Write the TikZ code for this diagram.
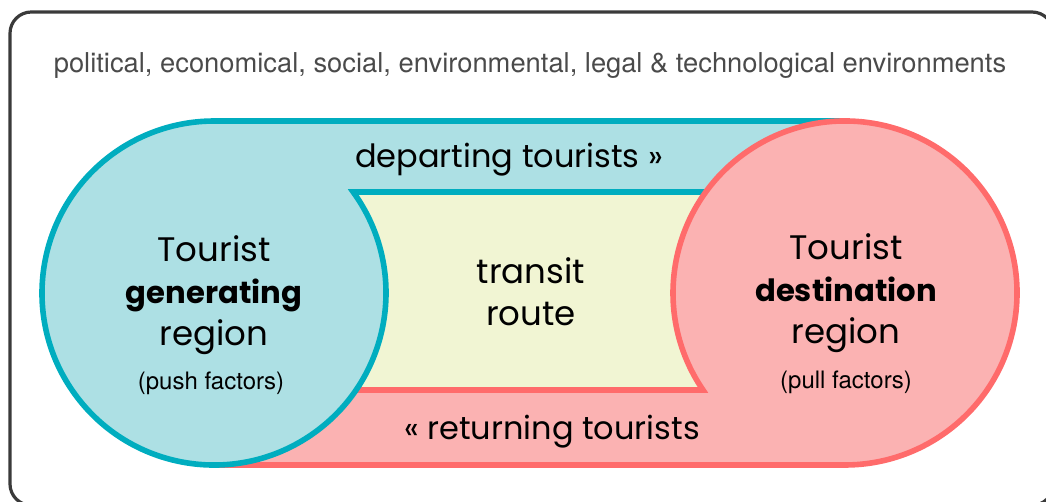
\documentclass[tikz,border=0pt]{standalone}
\usepackage{fontspec}
\setmainfont{Poppins}
\newfontfamily\heros{TeX Gyre Heros}
\usepackage{tikz}
\definecolor{genline}{HTML}{00ADBF}
\definecolor{genfill}{HTML}{ADE0E4}
\definecolor{dstline}{HTML}{FF6B6B}
\definecolor{dstfill}{HTML}{FBB2B2}
\definecolor{routefill}{HTML}{F1F5D3}
\definecolor{boxgray}{HTML}{3A3A3A}
\definecolor{envgray}{HTML}{4A4A4A}
\newcommand{\keyword}[1]{{\bfseries\fontsize{23}{32}\selectfont #1}}
\tikzstyle{region} = [align=center, text centered, font=\fontsize{25.5}{31.5}\selectfont]
\tikzstyle{flow} = [font=\fontsize{24}{28}\selectfont]
\tikzstyle{factors} = [font=\heros\fontsize{18}{21}\selectfont]
\tikzstyle{env} = [text=envgray, font=\heros\fontsize{20.5}{24}\selectfont]

\begin{document}
\begin{tikzpicture}[line width=4.2pt]
  \useasboundingbox (0pt,0pt) rectangle (784.5pt,-376.5pt);
  \draw[line width=2.4pt, draw=boxgray, rounded corners=16pt] (7.5pt,-9pt) rectangle (790pt,-379pt);
  \fill[routefill] (160.5pt,-144pt) rectangle (633.75pt,-292.5pt);
  \fill[dstfill] (160.5pt,-292.5pt) rectangle (633.75pt,-348.75pt);
  \draw[dstline] (160.5pt,-292.5pt) -- (633.75pt,-292.5pt) (160.5pt,-348.75pt) -- (633.75pt,-348.75pt);
  \fill[genfill] (633.75pt,-144pt) -- (264.9pt,-144pt) arc[start angle=35.97, end angle=-270, radius=129pt] -- (633.75pt,-90.75pt) -- cycle;
  \draw[genline] (633.75pt,-144pt) -- (264.9pt,-144pt) arc[start angle=35.97, end angle=-270, radius=129pt] -- (633.75pt,-90.75pt);
  \fill[dstfill] (633.75pt,-219.75pt) circle (129pt);
  \draw[dstline] (300pt,-292.5pt) -- (527.25pt,-292.5pt) arc[start angle=214.34, end angle=-90, radius=129pt] -- (230pt,-348.75pt);
  \draw (397.5pt,-49pt) node[env] (env) {political, economical, social, environmental, legal \& technological environments};
  \draw (381.75pt,-120pt) node[flow] (depart) {departing tourists »};
  \draw (414pt,-323.5pt) node[flow] (return) {« returning tourists};
  \draw (160.5pt,-221pt) node[region] (gen) {Tourist\\\keyword{generating}\\region};
  \draw (634.5pt,-219.5pt) node[region] (dest) {Tourist\\\keyword{destination}\\region};
  \draw (398.25pt,-219pt) node[region] (transit) {transit\\route};
  \draw (158.25pt,-287.25pt) node[factors] (push) {(push factors)};
  \draw (634.5pt,-286.5pt) node[factors] (pull) {(pull factors)};
\end{tikzpicture}
\end{document}
